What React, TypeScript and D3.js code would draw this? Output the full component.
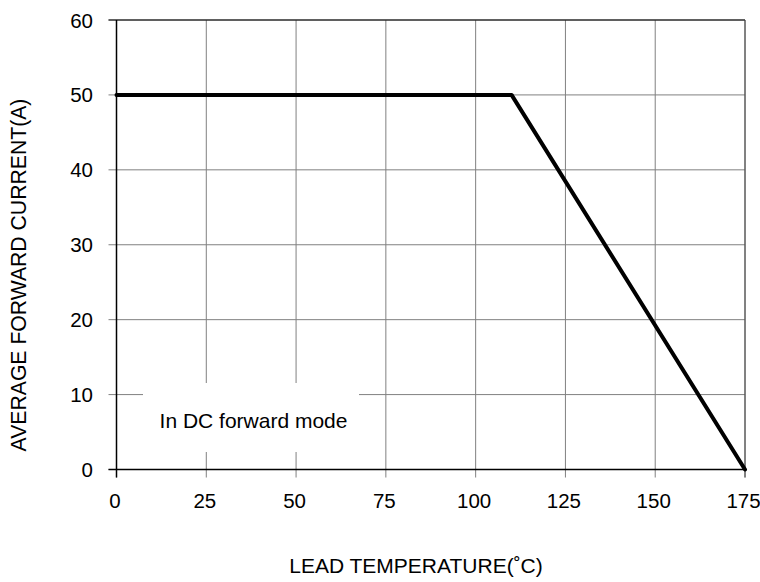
import React from "react";
import * as d3 from "d3";

const xTicks = [0, 25, 50, 75, 100, 125, 150, 175];
const yTicks = [0, 10, 20, 30, 40, 50, 60];
const curveTemp = [0, 110, 175];
const curveCurrent = [50, 50, 0];

const W = 760, H = 582;
const L = 116.5, R = 745, T = 20, B = 469.5;

export default function App() {
  const x = d3.scaleLinear().domain([0, 175]).range([L, R]);
  const y = d3.scaleLinear().domain([0, 60]).range([B, T]);
  const line = d3.line<number>().x((d, i) => x(curveTemp[i])).y((d) => y(d));
  const font = "'Liberation Sans', Arial, sans-serif";
  return (
    <svg width={W} height={H} style={{ position: "absolute", left: 0, top: 0, background: "#fff" }} fontFamily={font}>
      <rect x={0} y={0} width={W} height={H} fill="#fff" />
      {xTicks.map((t) => (
        <line key={"gx" + t} x1={x(t)} x2={x(t)} y1={T} y2={B + 8} stroke="#808080" strokeWidth={1} />
      ))}
      {yTicks.map((t) => (
        <line key={"gy" + t} x1={L - 8} x2={R} y1={y(t)} y2={y(t)} stroke="#808080" strokeWidth={1} />
      ))}
      <rect x={143} y={383} width={216} height={69} fill="#fff" />
      <text x={253.5} y={428} fontSize={21} textAnchor="middle" fill="#000">In DC forward mode</text>
      <line x1={L} x2={L} y1={T} y2={B + 8} stroke="#000" strokeWidth={1.5} />
      <line x1={L - 8} x2={R} y1={B} y2={B} stroke="#000" strokeWidth={1.5} />
      <line x1={L - 8} x2={R} y1={T} y2={T} stroke="#000" strokeWidth={1} />
      <line x1={R} x2={R} y1={T} y2={B + 8} stroke="#444" strokeWidth={1} />
      <path d={line(curveCurrent) || ""} fill="none" stroke="#000" strokeWidth={4} strokeLinejoin="round" strokeLinecap="round" />
      {yTicks.map((t) => (
        <text key={"ty" + t} x={93} y={y(t) + 7.5} fontSize={20.5} textAnchor="end" fill="#000">{t}</text>
      ))}
      {xTicks.map((t) => (
        <text key={"tx" + t} x={x(t) - 1.5} y={B + 38.5} fontSize={20.5} textAnchor="middle" fill="#000">{t}</text>
      ))}
      <text x={416} y={573} fontSize={21} textAnchor="middle" fill="#000">LEAD TEMPERATURE(˚C)</text>
      <text transform={`translate(26,275) rotate(-90)`} fontSize={21.2} textAnchor="middle" fill="#000">AVERAGE FORWARD CURRENT(A)</text>
    </svg>
  );
}
